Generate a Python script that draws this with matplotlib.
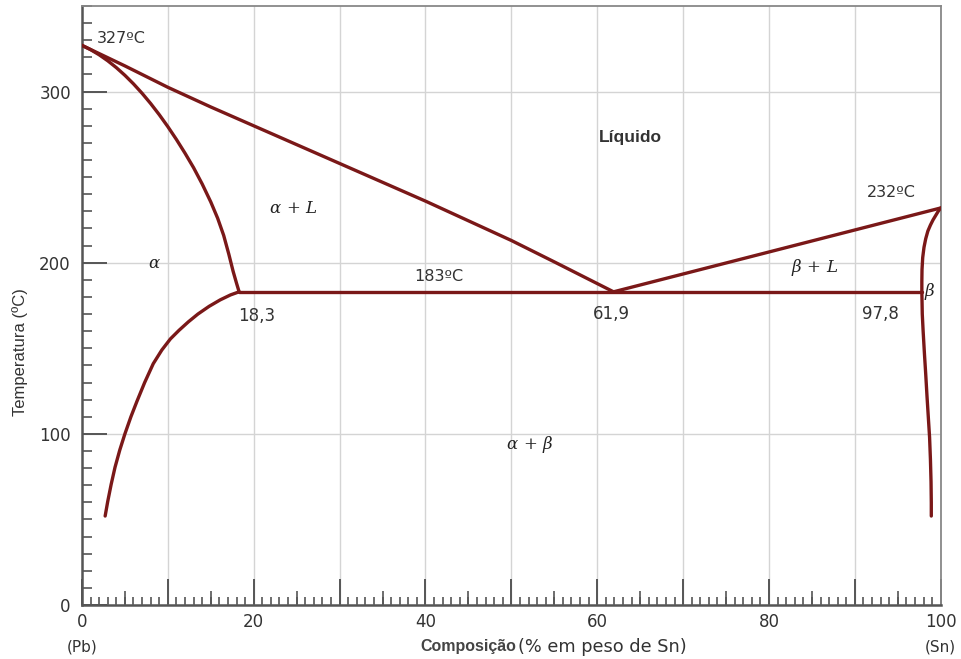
import numpy as np
import matplotlib
matplotlib.use("Agg")
from matplotlib import pyplot as plt
from matplotlib.ticker import MultipleLocator, FixedLocator, FuncFormatter

plt.rcParams['mathtext.fontset'] = 'dejavuserif'

# phase boundaries (x = % Sn, t = temperature in C)
liq_left_x = [0, 5, 10, 15, 20, 25, 30, 35, 40, 45, 50, 55, 61.9]
liq_left_t = [327, 315, 302.5, 291, 280, 269, 258, 247, 236, 224.5, 213, 200.5, 183]

liq_right_x = [61.9, 100]
liq_right_t = [183, 232]

sol_left_x = [0, 1, 2, 3, 4, 5, 6, 7, 8, 9, 10, 11, 12, 13, 14, 15,
              15.8, 16.5, 17.1, 17.6, 18.0, 18.3]
sol_left_t = [327, 324.5, 321.5, 318, 314, 309.5, 304.5, 299, 293, 286.5, 279.5,
              272, 264, 255.5, 246, 235.5, 226, 216, 205, 195, 188, 183]

solv_left_x = [2.7, 3.0, 3.4, 3.85, 4.4, 5.0, 5.7, 6.4, 7.3, 8.3, 9.3, 10.3,
               11.3, 12.4, 13.5, 14.8, 16.1, 17.3, 18.3]
solv_left_t = [52, 60.5, 70.5, 80.5, 90.5, 100, 110, 119, 130, 141, 149, 155.5,
               160.5, 165.5, 170, 174.5, 178.3, 181.2, 183]

sol_right_x = [100, 99.7, 99.4, 99.1, 98.8, 98.5, 98.25, 98.05, 97.9, 97.82, 97.8, 97.8]
sol_right_t = [232, 230, 227.5, 225, 222, 218.5, 214, 209, 203, 196, 189, 183]

solv_right_x = [97.8, 97.85, 97.95, 98.1, 98.25, 98.4, 98.55, 98.7, 98.8, 98.87, 98.9, 98.9]
solv_right_t = [183, 170, 160, 147, 135, 122, 110, 98, 85, 72, 60, 52]

eut_x = [18.3, 97.8]
eut_t = [183, 183]

line_col = '#7a1818'
txt_col = '#333333'

fig = plt.figure(figsize=(9.62, 6.59), dpi=100)
ax = fig.add_axes([0.0852, 0.0819, 0.8927, 0.9090])

for xs, ts in [(liq_left_x, liq_left_t), (liq_right_x, liq_right_t),
               (sol_left_x, sol_left_t), (solv_left_x, solv_left_t),
               (sol_right_x, sol_right_t), (solv_right_x, solv_right_t),
               (eut_x, eut_t)]:
    ax.plot(xs, ts, color=line_col, lw=2.4, solid_capstyle='round',
            solid_joinstyle='round', zorder=3)

ax.set_xlim(0, 100)
ax.set_ylim(0, 350)

# ticks
ax.xaxis.set_major_locator(MultipleLocator(10))
ax.xaxis.set_minor_locator(MultipleLocator(1))
ax.xaxis.set_major_formatter(FuncFormatter(lambda v, p: '%d' % v if round(v) % 20 == 0 else ''))
ax.yaxis.set_major_locator(FixedLocator([0, 100, 200, 300]))
ax.yaxis.set_minor_locator(MultipleLocator(10))

ax.tick_params(axis='x', which='major', direction='in', length=19, width=1.4,
               color='#555555', labelsize=12, labelcolor=txt_col, pad=6)
ax.tick_params(axis='x', which='minor', direction='in', length=6, width=1.2,
               color='#555555')
ax.tick_params(axis='y', which='major', direction='in', length=18, width=1.4,
               color='#555555', labelsize=12, labelcolor=txt_col, pad=8)
ax.tick_params(axis='y', which='minor', direction='in', length=7, width=1.2,
               color='#555555')

# medium ticks at the 5s
sec = ax.secondary_xaxis(0)
sec.set_xticks(np.arange(5, 100, 10))
sec.tick_params(direction='in', length=10, width=1.2, color='#555555',
                labelbottom=False)
sec.spines['bottom'].set_visible(False)

ax.grid(True, which='major', color='#d4d4d4', lw=1.0, zorder=0)
for s in ax.spines.values():
    s.set_color('#888888')
    s.set_linewidth(1.3)
ax.spines['left'].set_color('#555555')
ax.spines['bottom'].set_color('#555555')
ax.spines['left'].set_linewidth(1.8)
ax.spines['bottom'].set_linewidth(1.8)

# annotations
ax.text(1.75, 331, '327ºC', fontsize=11.5, color=txt_col, va='center', ha='left')
ax.text(63.9, 273, 'Líquido', fontsize=12.5, color=txt_col, va='center',
        ha='center', fontweight='bold', family='Liberation Sans')
ax.text(94.3, 241, '232ºC', fontsize=11.5, color=txt_col, va='center', ha='center')
ax.text(41.5, 192, '183ºC', fontsize=11.5, color=txt_col, va='center', ha='center')
ax.text(20.3, 169, '18,3', fontsize=12, color=txt_col, va='center', ha='center')
ax.text(61.7, 170, '61,9', fontsize=12, color=txt_col, va='center', ha='center')
ax.text(93.0, 170, '97,8', fontsize=12, color=txt_col, va='center', ha='center')

ax.text(24.6, 232, r'$\alpha\,+\,L$', fontsize=12, color='#222222', va='center', ha='center')
ax.text(8.4, 200, r'$\alpha$', fontsize=12, color='#222222', va='center', ha='center')
ax.text(85.3, 197, r'$\beta\,+\,L$', fontsize=12, color='#222222', va='center', ha='center')
ax.text(98.7, 183, r'$\beta$', fontsize=12, color='#222222', va='center', ha='center')
ax.text(52.2, 94, r'$\alpha\,+\,\beta$', fontsize=12, color='#222222', va='center', ha='center')

# axis labels
fig.text(20 / 962, 1 - 352 / 659, 'Temperatura (ºC)', rotation=90, fontsize=12,
         color=txt_col, ha='center', va='center', family='Liberation Sans')
fig.text(468 / 962, 1 - 647 / 659, 'Composição', fontsize=11.5, color='#444444',
         ha='center', va='center', fontweight='bold', family='Liberation Sans')
fig.text(602 / 962, 1 - 647 / 659, '(% em peso de Sn)', fontsize=12.8, color=txt_col,
         ha='center', va='center')
fig.text(82.5 / 962, 1 - 647 / 659, '(Pb)', fontsize=11, color=txt_col,
         ha='center', va='center')
fig.text(940 / 962, 1 - 647 / 659, '(Sn)', fontsize=11, color=txt_col,
         ha='center', va='center')

fig.savefig('out.png', dpi=100)
